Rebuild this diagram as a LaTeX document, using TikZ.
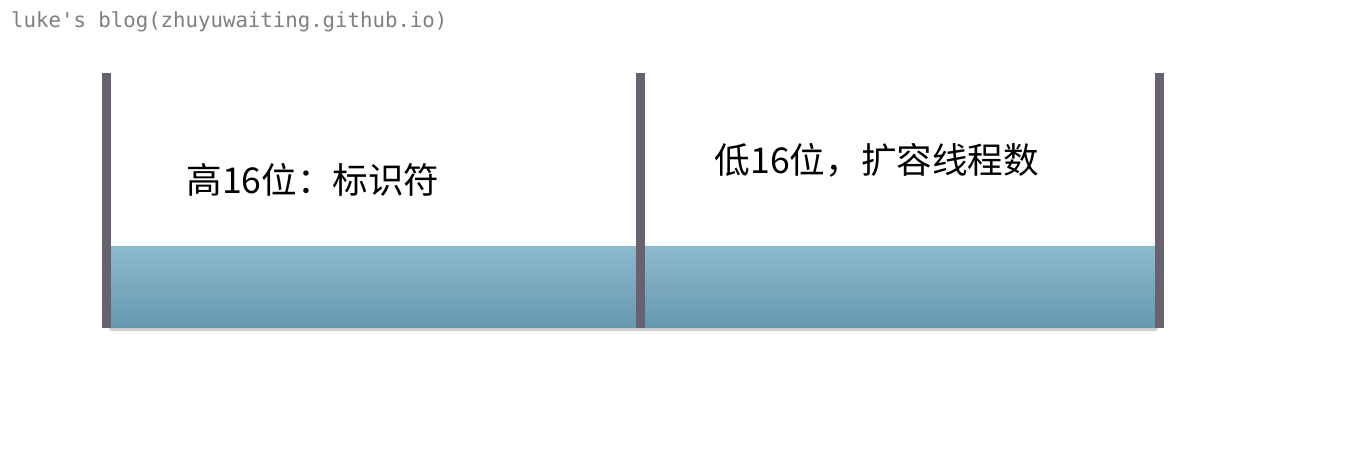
\documentclass[tikz,border=0pt]{standalone}
\usepackage{fontspec}
\newfontfamily\cjk{Noto Sans CJK SC}
\setmonofont{DejaVu Sans Mono}
\usetikzlibrary{positioning,shadows}
\definecolor{barcol}{HTML}{67626D}
\definecolor{fieldtop}{HTML}{8DB9CC}
\definecolor{fieldbot}{HTML}{6698B1}
\definecolor{marktext}{HTML}{7F7F7F}

\begin{document}
\begin{tikzpicture}[x=1pt,y=-1pt,
  lbl/.style={font=\cjk\fontsize{35.6}{42}\selectfont,inner sep=0pt},
  bar/.style={fill=barcol,draw=none},
  field/.style={rounded corners=3pt,top color=fieldtop,bottom color=fieldbot,draw=none,
    drop shadow={shadow xshift=1pt,shadow yshift=-3pt,opacity=0.35}}]
\useasboundingbox (0,0) rectangle (1346,464);
\fill[white] (0,0) rectangle (1346,464);

\node[font=\ttfamily\fontsize{20.7}{24}\selectfont,text=marktext,anchor=west,inner sep=0pt] (mark) at (11,22) {luke's blog(zhuyuwaiting.github.io)};

% the two halves of the field
\path[field] (108,246) rectangle (1157,328);

\fill[bar] (102,73) rectangle (111,328);
\fill[bar] (636,73) rectangle (645,328);
\fill[bar] (1155,73) rectangle (1164,328);

\node[lbl] (high) at (313,180) {高16位：标识符};
\node[lbl] (low) at (877,160) {低16位，扩容线程数};
\end{tikzpicture}
\end{document}
